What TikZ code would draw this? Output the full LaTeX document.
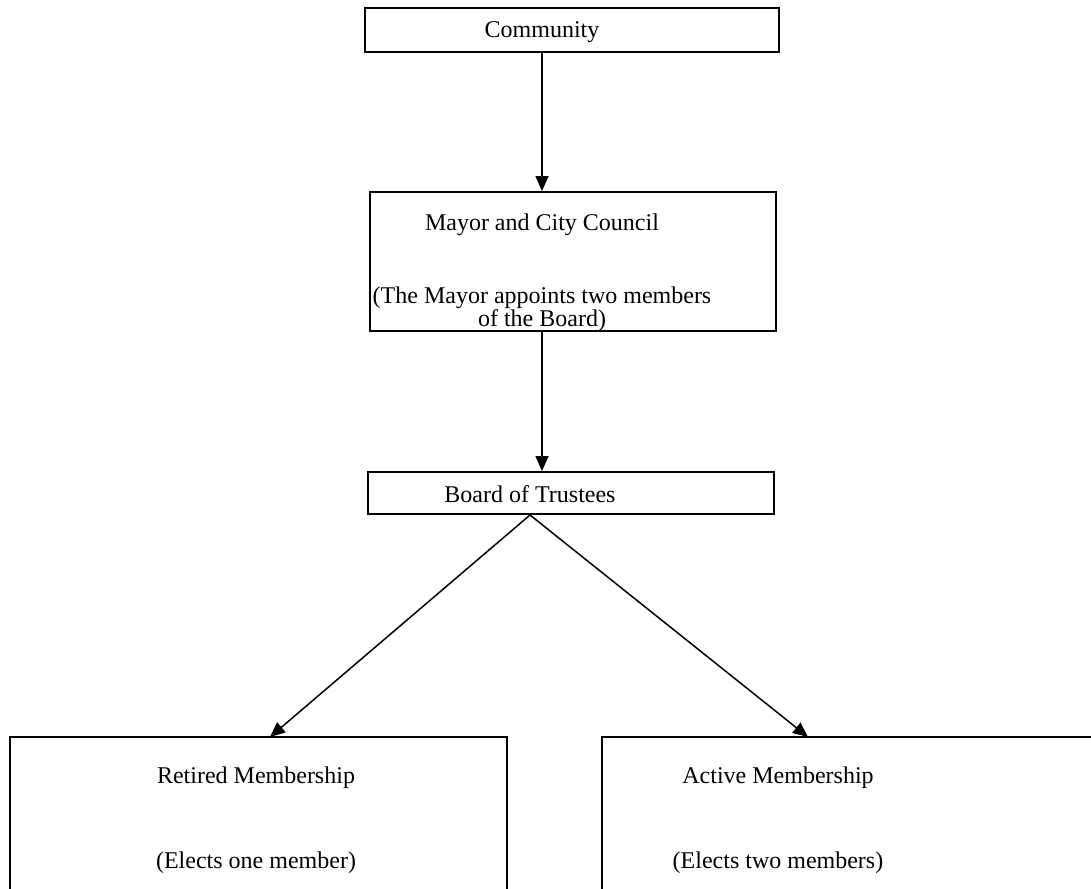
\documentclass[tikz,border=0pt]{standalone}
\usepackage{fontspec}
\setmainfont{Liberation Serif}
\usetikzlibrary{arrows.meta,fit}

\tikzset{
  box/.style={draw, line width=1pt, inner sep=0pt},
  txt/.style={align=center, inner sep=0pt, font=\fontsize{12}{11.5}\selectfont},
  link/.style={line width=0.75pt, -{Triangle[length=7.5pt,width=6.5pt]}}
}

\begin{document}
\begin{tikzpicture}[x=0.5pt, y=-0.5pt]
  \clip (0,0) rectangle (1091,888);

  %% top of the chart
  \node[box, fit={(365,8) (779,52)}] (comm) {};
  \node[txt] (commtxt) at (542,32) {Community};

  \node[box, fit={(370,192) (776,331)}] (mayor) {};
  \node[txt] (mayortxt) at (542,273) {Mayor and City Council\\[25pt]
    (The Mayor appoints two members\\ of the Board)};

  \node[box, fit={(368,472) (774,514)}] (board) {};
  \node[txt] (boardtxt) at (530,494) {Board of Trustees};

  %% the two memberships
  \node[box, fit={(10,737) (507,910)}] (retired) {};
  \node[txt] (retiredtxt) at (256,820) {Retired Membership\\[31pt]
    (Elects one member)};

  \node[box, fit={(602,737) (1110,910)}] (active) {};
  \node[txt] (activetxt) at (778,820) {Active Membership\\[31pt]
    (Elects two members)};

  \coordinate (retin) at (270,737);
  \coordinate (actin) at (808,737);

  %% arrows
  \draw[link] (commtxt |- comm.south) -- (mayortxt |- mayor.north);
  \draw[link] (mayortxt |- mayor.south) -- (commtxt |- board.north);
  \draw[link] (boardtxt |- board.south) -- (retin);
  \draw[link] (boardtxt |- board.south) -- (actin);
\end{tikzpicture}
\end{document}
